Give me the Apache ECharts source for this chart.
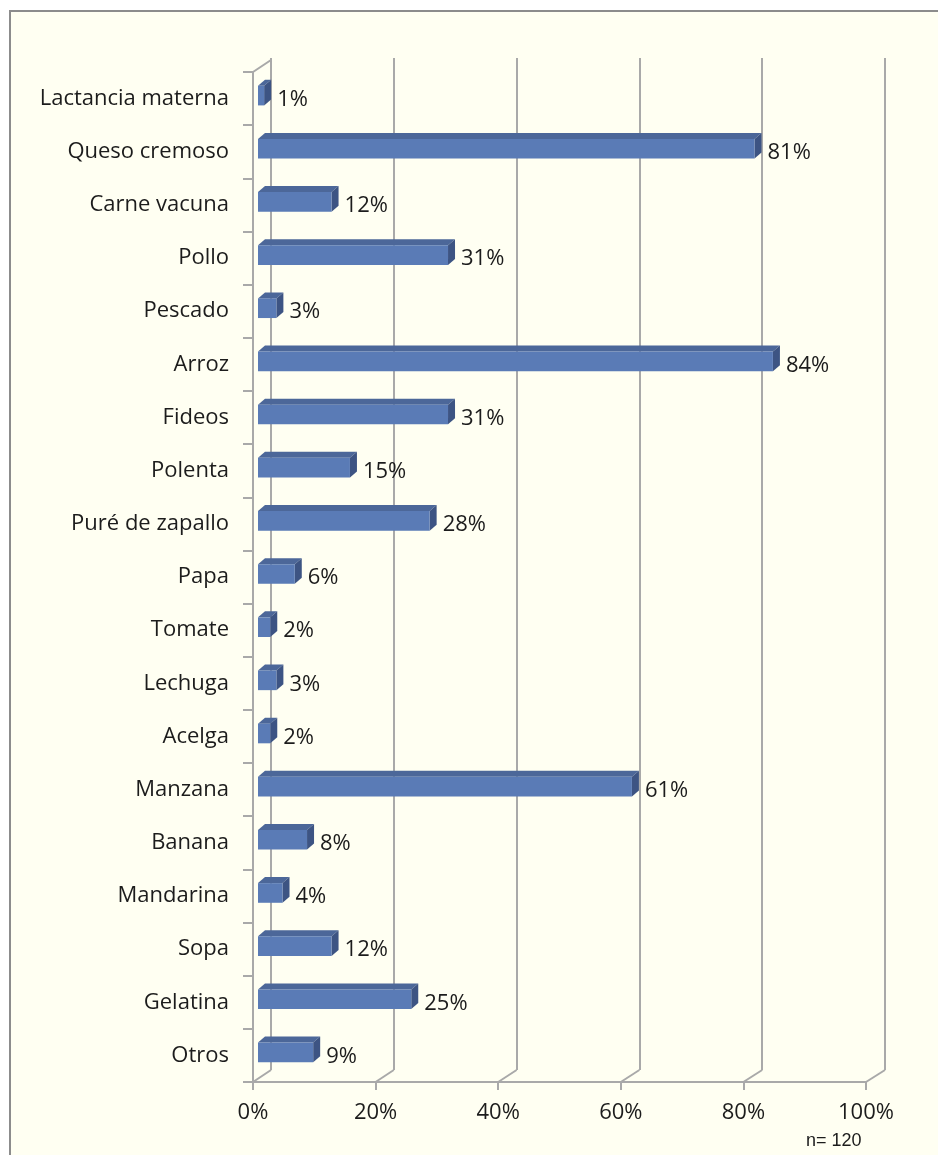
<!DOCTYPE html>
<html>
<head>
<meta charset="utf-8">
<script src="https://cdn.jsdelivr.net/npm/echarts@6/dist/echarts.min.js"></script>
<style>
  html, body { margin: 0; padding: 0; background: #ffffff; }
  #chart { width: 938px; height: 1155px; }
</style>
</head>
<body>
<div id="chart"></div>
<script>
// Foods offered (share of respondents, %)
const categories = [
  'Lactancia materna', 'Queso cremoso', 'Carne vacuna', 'Pollo', 'Pescado',
  'Arroz', 'Fideos', 'Polenta', 'Puré de zapallo', 'Papa', 'Tomate',
  'Lechuga', 'Acelga', 'Manzana', 'Banana', 'Mandarina', 'Sopa',
  'Gelatina', 'Otros'
];
const values = [1, 81, 12, 31, 3, 84, 31, 15, 28, 6, 2, 3, 2, 61, 8, 4, 12, 25, 9];
const tickValues = [0, 20, 40, 60, 80, 100];
const sampleNote = 'n= 120';

const FONT = '"Open Sans", "Noto Sans", sans-serif';
const FONT_SIZE = 22;
const TEXT_COLOR = '#1c1c1c';
const WALL_LINE = '#a9a9a9';
const BAR_FRONT = '#5a7bb6';
const BAR_TOP = '#4c6799';
const BAR_SIDE = '#3d5483';
const BAR_DEPTH = { x: 7, y: -6 };

// Grid layouts: back wall, front axes, bar plane
const backGrid = { left: 271, top: 58, width: 614, height: 1012 };
const frontGrid = { left: 253, top: 72, width: 613, height: 1010 };
const barGrid = { left: 258, top: 69, width: 613, height: 1010 };

const chart = echarts.init(document.getElementById('chart'), null, { renderer: 'canvas' });

const option = {
  backgroundColor: '#ffffff',
  animation: false,
  graphic: [{
    type: 'rect',
    z: -10,
    shape: { x: 10, y: 11, width: 940, height: 1160 },
    style: { fill: '#fffff2', stroke: '#8c8c8c', lineWidth: 2 }
  }],
  grid: [backGrid, frontGrid, barGrid],
  xAxis: [
    {
      gridIndex: 0, type: 'value', min: 0, max: 100, interval: 20,
      axisLine: { show: false }, axisTick: { show: false }, axisLabel: { show: false },
      splitLine: { show: true, showMinLine: true, showMaxLine: true, lineStyle: { color: WALL_LINE, width: 2 } }
    },
    {
      gridIndex: 1, type: 'value', min: 0, max: 100, interval: 20, position: 'bottom',
      axisLine: { show: true, lineStyle: { color: WALL_LINE, width: 2 } },
      axisTick: { show: true, length: 8, lineStyle: { color: WALL_LINE, width: 2 } },
      axisLabel: {
        formatter: function (v) { return tickValues.indexOf(v) >= 0 ? v + '%' : ''; },
        margin: 20, fontSize: FONT_SIZE, color: TEXT_COLOR, fontFamily: FONT
      },
      splitLine: { show: false }
    },
    { gridIndex: 2, type: 'value', min: 0, max: 100, show: false }
  ],
  yAxis: [
    { gridIndex: 0, type: 'category', data: categories, inverse: true, show: false },
    {
      gridIndex: 1, type: 'category', data: categories, inverse: true,
      axisLine: { show: true, lineStyle: { color: WALL_LINE, width: 2 } },
      axisTick: { show: true, length: 10, lineStyle: { color: WALL_LINE, width: 2 } },
      axisLabel: { margin: 24, fontSize: FONT_SIZE, color: TEXT_COLOR, fontFamily: FONT, padding: [9, 0, 0, 0] },
      splitLine: { show: false }
    },
    { gridIndex: 2, type: 'category', data: categories, inverse: true, show: false }
  ],
  series: [{
    type: 'custom',
    xAxisIndex: 2,
    yAxisIndex: 2,
    encode: { x: 0, y: 1 },
    data: values.map(function (v, i) { return [v, i]; }),
    renderItem: function (params, api) {
      const v = api.value(0);
      const c = api.value(1);
      const start = api.coord([0, c]);
      const end = api.coord([v, c]);
      const h = api.size([0, 1])[1] * 0.37;
      const x0 = start[0], x1 = end[0];
      const yT = start[1] - h / 2, yB = start[1] + h / 2;
      const dx = BAR_DEPTH.x, dy = BAR_DEPTH.y;
      return {
        type: 'group',
        children: [
          { type: 'polygon', shape: { points: [[x0, yT], [x0 + dx, yT + dy], [x1 + dx, yT + dy], [x1, yT]] },
            style: { fill: BAR_TOP } },
          { type: 'polygon', shape: { points: [[x1, yT], [x1 + dx, yT + dy], [x1 + dx, yB + dy], [x1, yB]] },
            style: { fill: BAR_SIDE } },
          { type: 'rect', shape: { x: x0, y: yT, width: x1 - x0, height: h },
            style: { fill: BAR_FRONT } },
          { type: 'text', x: x1 + dx + 6, y: start[1] + 4,
            style: { text: v + '%', fill: TEXT_COLOR, font: FONT_SIZE + 'px ' + FONT, verticalAlign: 'middle', align: 'left' } }
        ]
      };
    }
  }]
};

chart.setOption(option);

// Floor and wall edges joining the front axes to the back wall
const edges = [];
tickValues.forEach(function (v) {
  const fx = chart.convertToPixel({ xAxisIndex: 1 }, v);
  const bx = chart.convertToPixel({ xAxisIndex: 0 }, v);
  edges.push({
    type: 'line', z: 1,
    shape: { x1: fx, y1: frontGrid.top + frontGrid.height, x2: bx, y2: backGrid.top + backGrid.height },
    style: { stroke: WALL_LINE, lineWidth: 2 }
  });
});
edges.push({
  type: 'line', z: 1,
  shape: { x1: frontGrid.left, y1: frontGrid.top, x2: backGrid.left, y2: backGrid.top + 2 },
  style: { stroke: WALL_LINE, lineWidth: 2 }
});
edges.push({
  type: 'text', z: 5, x: 806, y: 1141,
  style: { text: sampleNote, fill: TEXT_COLOR, font: '18px "Liberation Sans", Arial, sans-serif', verticalAlign: 'middle' }
});

chart.setOption({ graphic: option.graphic.concat(edges) });
</script>
</body>
</html>
